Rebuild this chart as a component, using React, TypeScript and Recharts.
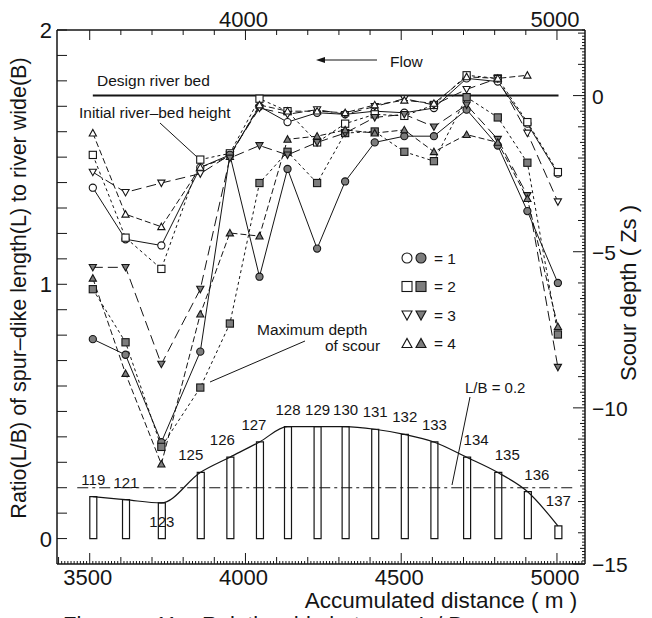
import React from "react";
import {
  Bar,
  ComposedChart,
  LabelList,
  Line,
  ReferenceLine,
  XAxis,
  YAxis,
} from "recharts";

// spur dikes along the reach
const dikeNo = ["119", "121", "123", "125", "126", "127", "128", "129", "130", "131", "132", "133", "134", "135", "136", "137"];
const distance = [3510, 3615, 3730, 3855, 3950, 4045, 4135, 4230, 4320, 4415, 4510, 4605, 4710, 4810, 4905, 5003];
const ratioLB = [0.165, 0.153, 0.14, 0.26, 0.32, 0.38, 0.44, 0.44, 0.44, 0.43, 0.41, 0.38, 0.32, 0.26, 0.185, 0.05];

// initial river-bed height (open symbols), Zs
const init1 = [-2.95, -4.6, -4.8, -2.3, -1.9, -0.35, -0.85, -0.55, -0.6, -0.5, -0.55, -0.4, 0.55, 0.45, -0.9, -2.5];
const init2 = [-1.9, -4.55, -5.55, -2.05, -1.85, -0.1, -0.5, -1.5, -0.9, -0.6, -0.65, -0.3, 0.65, 0.55, -0.85, -2.45];
const init3 = [-2.45, -3.1, -2.8, -2.5, -1.9, -0.4, -0.6, -0.45, -0.6, -0.35, -0.1, -0.3, 0.2, 0.55, -1.2, -3.4];
const init4 = [-1.2, -3.8, -4.2, -2.3, -1.95, -0.3, -0.5, -0.5, -0.55, -0.3, -0.15, -0.25, 0.6, 0.55, 0.65, null];

// maximum depth of scour (filled symbols), Zs
const max1 = [-7.8, -8.3, -11.1, -8.2, -1.9, -5.8, -2.35, -4.9, -2.75, -1.5, -1.3, -1.3, -0.45, -1.6, -3.7, -6.0];
const max2 = [-6.2, -7.9, -11.25, -9.35, -7.3, -2.8, -1.8, -2.8, -1.2, -1.15, -1.8, -2.1, -0.05, -0.7, -2.15, -7.65];
const max3 = [-5.5, -5.5, -8.6, -6.2, -2.0, -1.6, -1.9, -1.5, -1.2, -0.7, -0.6, -1.0, -0.3, -1.4, -3.2, -8.7];
const max4 = [-5.85, -8.9, -11.8, -7.0, -4.4, -4.5, -1.4, -1.3, -1.1, -1.2, -1.1, -1.8, -1.25, -1.5, -3.3, -7.4];

const caseNo = ["1", "2", "3", "4"];

const INK = "#151515";
const GREY = "#7d7d7d";
const FONT = '"Liberation Sans", Arial, sans-serif';

const rows = distance.map((d, i) => ({
  d,
  ratio: ratioLB[i],
  dike: dikeNo[i],
  i1: init1[i],
  i2: init2[i],
  i3: init3[i],
  i4: init4[i],
  m1: max1[i],
  m2: max2[i],
  m3: max3[i],
  m4: max4[i],
}));

const bottomTicks: number[] = [];
for (let v = 3400; v <= 5080; v += 10) bottomTicks.push(v);
const topTicks: number[] = [];
for (let v = 3500; v <= 5000; v += 100) topTicks.push(v);
const leftTicks: number[] = [];
for (let i = 0; i <= 20; i++) leftTicks.push(i / 10);
const rightTicks: number[] = [];
for (let i = -150; i <= 21; i++) rightTicks.push(i / 10);

type Shape = "circle" | "square" | "down" | "up";

function Marker({ shape, filled, x, y, r }: { shape: Shape; filled: boolean; x: number; y: number; r: number }) {
  const st = { fill: filled ? GREY : "#fff", stroke: INK, strokeWidth: 1.1 };
  if (shape === "circle") return <circle cx={x} cy={y} r={r} {...st} />;
  if (shape === "square") return <rect x={x - r} y={y - r} width={2 * r} height={2 * r} {...st} />;
  if (shape === "down")
    return <polygon points={`${x - r},${y - r * 0.8} ${x + r},${y - r * 0.8} ${x},${y + r}`} {...st} />;
  return <polygon points={`${x - r},${y + r * 0.8} ${x + r},${y + r * 0.8} ${x},${y - r}`} {...st} />;
}

const dotFor = (shape: Shape, filled: boolean) => (p: any) => {
  const v = p.payload ? p.payload[p.dataKey] : null;
  if (v == null || p.cx == null || p.cy == null) return <g key={p.index} />;
  return (
    <g key={p.index}>
      <Marker shape={shape} filled={filled} x={p.cx} y={p.cy} r={3.6} />
    </g>
  );
};

const series = [
  { key: "i1", shape: "circle" as Shape, filled: false, dash: undefined },
  { key: "i2", shape: "square" as Shape, filled: false, dash: "3 3" },
  { key: "i3", shape: "down" as Shape, filled: false, dash: "10 5" },
  { key: "i4", shape: "up" as Shape, filled: false, dash: "6 3" },
  { key: "m1", shape: "circle" as Shape, filled: true, dash: undefined },
  { key: "m2", shape: "square" as Shape, filled: true, dash: "3 3" },
  { key: "m3", shape: "down" as Shape, filled: true, dash: "10 5" },
  { key: "m4", shape: "up" as Shape, filled: true, dash: "6 3" },
];

function BottomTick(p: any) {
  const v = Math.round(p.payload.value);
  const major = v % 500 === 0;
  const len = major ? 11 : v % 100 === 0 ? 7 : 3;
  return (
    <g>
      <line x1={p.x} x2={p.x} y1={p.y} y2={p.y - len} stroke={INK} strokeWidth={1} />
      {major ? (
        <text x={p.x - 2} y={p.y + 21} textAnchor="middle" fontSize={22} fill={INK}>
          {v}
        </text>
      ) : null}
    </g>
  );
}

function TopTick(p: any) {
  const v = Math.round(p.payload.value);
  const major = v % 500 === 0;
  return (
    <g>
      <line x1={p.x} x2={p.x} y1={p.y} y2={p.y + (major ? 10 : 5)} stroke={INK} strokeWidth={1} />
      {v % 1000 === 0 ? (
        <text x={p.x - 2} y={p.y - 3} textAnchor="middle" fontSize={22} fill={INK}>
          {v}
        </text>
      ) : null}
    </g>
  );
}

function LeftTick(p: any) {
  const v = p.payload.value;
  const whole = Math.abs(v - Math.round(v)) < 1e-6;
  return (
    <g>
      <line x1={p.x} x2={p.x + 10} y1={p.y} y2={p.y} stroke={INK} strokeWidth={1} />
      {whole ? (
        <text x={p.x - 5} y={p.y + 8} textAnchor="end" fontSize={22} fill={INK}>
          {Math.round(v)}
        </text>
      ) : null}
    </g>
  );
}

function RightTick(p: any) {
  const v = Math.round(p.payload.value * 10);
  const five = v % 50 === 0;
  const len = five ? 12 : v % 10 === 0 ? 7 : v % 5 === 0 ? 5 : 3;
  return (
    <g>
      <line x1={p.x} x2={p.x - len} y1={p.y} y2={p.y} stroke={INK} strokeWidth={1} />
      {five ? (
        <text x={p.x + 7} y={p.y + 8} textAnchor="start" fontSize={21} fill={INK}>
          {v === 0 ? "0" : `\u2212${Math.abs(v / 10)}`}
        </text>
      ) : null}
    </g>
  );
}

// dike number above (or below) each bar
function DikeLabel(p: any) {
  const i = p.index;
  const cx = p.x + p.width / 2;
  let dx = 0;
  let y = p.y - 12;
  if (i === 2) y = p.y + 24;
  if (i >= 3 && i <= 5) dx = -10 + (i - 3) * 2;
  if (i >= 12 && i <= 14) dx = 9;
  if (i === 15) y = p.y - 20;
  return (
    <text x={cx + dx} y={y} textAnchor="middle" fontSize={15} fill={INK}>
      {p.value}
    </text>
  );
}

export default function App() {
  return (
    <div style={{ position: "absolute", left: 0, top: 0, width: 652, height: 618, background: "#fff", fontFamily: FONT }}>
      <ComposedChart width={652} height={618} data={rows} margin={{ top: 29, right: 66, bottom: 53, left: 56 }}>
        <XAxis
          xAxisId="b"
          dataKey="d"
          type="number"
          domain={[3395, 5090]}
          allowDataOverflow
          ticks={bottomTicks}
          interval={0}
          height={1}
          tickSize={0}
          tickMargin={0}
          tickLine={false}
          axisLine={{ stroke: INK, strokeWidth: 1.5 }}
          tick={BottomTick}
        />
        <XAxis
          xAxisId="t"
          orientation="top"
          dataKey="d"
          type="number"
          domain={[3395, 5090]}
          allowDataOverflow
          ticks={topTicks}
          interval={0}
          height={1}
          tickSize={0}
          tickMargin={0}
          tickLine={false}
          axisLine={{ stroke: INK, strokeWidth: 1.5 }}
          tick={TopTick}
        />
        <YAxis
          yAxisId="ratio"
          type="number"
          domain={[-0.1, 2]}
          allowDataOverflow
          ticks={leftTicks}
          interval={0}
          width={1}
          tickSize={0}
          tickMargin={0}
          tickLine={false}
          axisLine={{ stroke: INK, strokeWidth: 1.5 }}
          tick={LeftTick}
        />
        <YAxis
          yAxisId="zs"
          orientation="right"
          type="number"
          domain={[-15, 2.1]}
          allowDataOverflow
          ticks={rightTicks}
          interval={0}
          width={1}
          tickSize={0}
          tickMargin={0}
          tickLine={false}
          axisLine={{ stroke: INK, strokeWidth: 1.5 }}
          tick={RightTick}
        />

        <ReferenceLine
          xAxisId="b"
          yAxisId="ratio"
          segment={[{ x: 3460, y: 0.2 }, { x: 5050, y: 0.2 }]}
          stroke={INK}
          strokeWidth={1.1}
          strokeDasharray="11 4 3 4"
        />
        <ReferenceLine
          xAxisId="b"
          yAxisId="zs"
          segment={[{ x: 3510, y: 0 }, { x: 5005, y: 0 }]}
          stroke={INK}
          strokeWidth={2}
        />

        <Bar
          xAxisId="b"
          yAxisId="ratio"
          dataKey="ratio"
          barSize={7}
          fill="#fff"
          stroke={INK}
          strokeWidth={1.2}
          isAnimationActive={false}
        >
          <LabelList dataKey="dike" content={DikeLabel} />
        </Bar>
        <Line
          xAxisId="b"
          yAxisId="ratio"
          dataKey="ratio"
          type="monotone"
          stroke={INK}
          strokeWidth={1.2}
          dot={false}
          activeDot={false}
          isAnimationActive={false}
        />

        {series.map((s) => (
          <Line
            key={s.key}
            xAxisId="b"
            yAxisId="zs"
            dataKey={s.key}
            type="linear"
            stroke={INK}
            strokeWidth={1}
            strokeDasharray={s.dash}
            dot={dotFor(s.shape, s.filled)}
            activeDot={false}
            isAnimationActive={false}
          />
        ))}

        {/* annotations */}
        <g fontFamily={FONT} fill={INK}>
          <text x={97} y={86} fontSize={15.5}>Design river bed</text>
          <text x={79} y={118} fontSize={15.5}>Initial river–bed height</text>
          <line x1={160} y1={123} x2={197} y2={157} stroke={INK} strokeWidth={1} />

          <line x1={322} y1={60} x2={377} y2={60} stroke={INK} strokeWidth={1.2} />
          <polygon points="316,60 325,57 325,63" fill={INK} />
          <text x={390} y={67} fontSize={15.5}>Flow</text>

          <text x={257} y={335} fontSize={15.5}>Maximum depth</text>
          <text x={325} y={351} fontSize={15.5}>of scour</text>
          <line x1={305} y1={341} x2={210} y2={382} stroke={INK} strokeWidth={1} />

          <text x={465} y={393} fontSize={15}>L/B = 0.2</text>
          <line x1={470} y1={397} x2={452} y2={485} stroke={INK} strokeWidth={1} />

          {caseNo.map((c, k) => {
            const shapes: Shape[] = ["circle", "square", "down", "up"];
            const y = 258 + k * 28.5;
            return (
              <g key={c}>
                <Marker shape={shapes[k]} filled={false} x={407} y={y} r={5} />
                <Marker shape={shapes[k]} filled x={421} y={y} r={5} />
                <text x={434} y={y + 5.5} fontSize={15.5}>= {c}</text>
              </g>
            );
          })}

          <text x={441} y={608} textAnchor="middle" fontSize={22.5}>Accumulated distance ( m )</text>
          <text x={26} y={288} textAnchor="middle" fontSize={21.5} transform="rotate(-90 26 288)">
            Ratio(L/B) of spur–dike length(L) to river wide(B)
          </text>
          <text x={636} y={293} textAnchor="middle" fontSize={22} transform="rotate(-90 636 293)">
            Scour depth ( Zs )
          </text>
          <text x={63} y={632} fontSize={22}>Figure</text>
          <text x={155} y={632} fontSize={22}>11</text>
          <text x={202} y={632} fontSize={22}>Relationship between L / B</text>
        </g>
      </ComposedChart>
    </div>
  );
}
